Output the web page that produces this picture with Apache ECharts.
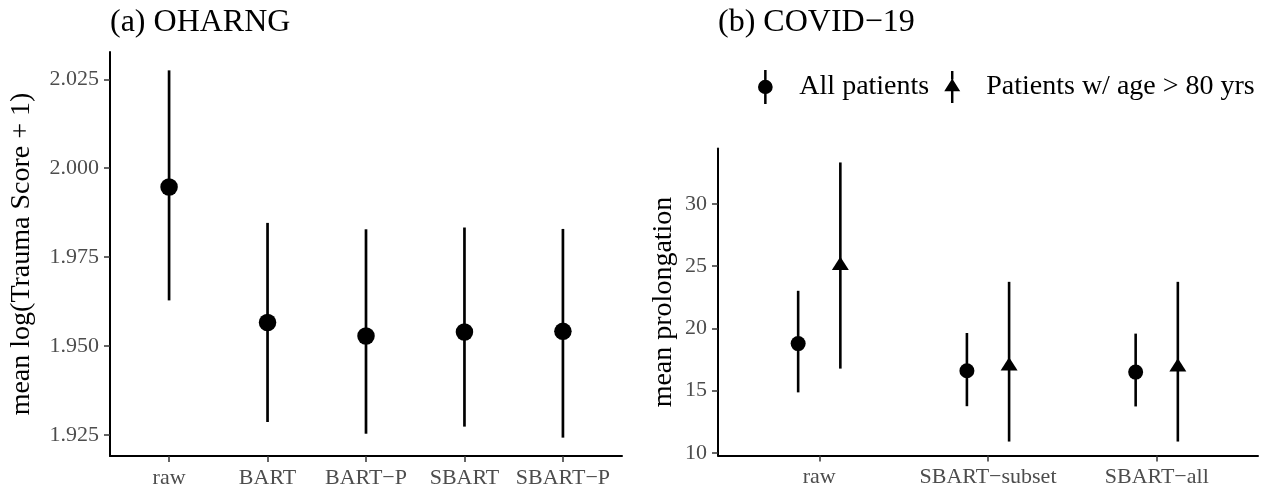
<!DOCTYPE html>
<html><head><meta charset="utf-8">
<script src="https://cdn.jsdelivr.net/npm/echarts@6/dist/echarts.min.js"></script>
<style>html,body{margin:0;padding:0;background:#fff}#c{width:1271px;height:491px}</style>
</head><body><div id="c"></div>
<script>
// ---------- data ----------
const leftCategories = ['raw', 'BART', 'BART−P', 'SBART', 'SBART−P'];
const leftMean  = [1.9947, 1.9566, 1.9528, 1.9539, 1.9541];
const leftLower = [1.9628, 1.9286, 1.9253, 1.9273, 1.9242];
const leftUpper = [2.0275, 1.9846, 1.9828, 1.9833, 1.9829];
const leftTicks = [1.925, 1.950, 1.975, 2.000, 2.025];

const rightCategories = ['raw', 'SBART−subset', 'SBART−all'];
const seriesNames = ['All patients', 'Patients w/ age > 80 yrs'];
const allMean  = [18.78, 16.60, 16.49];
const allLower = [14.86, 13.75, 13.73];
const allUpper = [23.02, 19.63, 19.58];
const oldMean  = [25.04, 16.98, 16.90];
const oldLower = [16.77, 10.91, 10.91];
const oldUpper = [33.33, 23.74, 23.74];
const rightTicks = [10, 15, 20, 25, 30];

const leftTitle = '(a) OHARNG';
const rightTitle = '(b) COVID−19';
const leftYName = 'mean log(Trauma Score + 1)';
const rightYName = 'mean prolongation';

// ---------- helpers ----------
const FONT = 'Liberation Serif';
function expand(lo, hi, mult) { const r = hi - lo; return [lo - mult * r, hi + mult * r]; }
const leftRange = expand(Math.min(...leftLower), Math.max(...leftUpper), 0.05);
const rightRange = expand(Math.min(...allLower, ...oldLower), Math.max(...allUpper, ...oldUpper), 0.05);
const dodge = 0.125;

function catAxis(gridIndex, cats) {
  const idx = cats.map((c, i) => i + 1);
  return {
    type: 'value', gridIndex, min: 0.4, max: cats.length + 0.6,
    axisLine: { show: true, onZero: false, lineStyle: { color: '#000', width: 2 } },
    axisTick: { show: true, customValues: idx, length: 6, lineStyle: { color: '#333', width: 1.5 } },
    axisLabel: { customValues: idx, formatter: v => cats[Math.round(v) - 1], color: '#4d4d4d',
                 fontSize: 22, fontFamily: FONT, margin: 11 },
    splitLine: { show: false }
  };
}
function valAxis(gridIndex, range, ticks, fmt, name, nameGap) {
  return {
    type: 'value', gridIndex, min: range[0], max: range[1],
    name, nameLocation: 'middle', nameGap,
    nameTextStyle: { fontFamily: FONT, fontSize: 28, color: '#000' },
    axisLine: { show: true, onZero: false, lineStyle: { color: '#000', width: 2 } },
    axisTick: { show: true, customValues: ticks, length: 6, lineStyle: { color: '#333', width: 1.5 } },
    axisLabel: { customValues: ticks, formatter: fmt, color: '#4d4d4d', fontSize: 22, fontFamily: FONT, margin: 11 },
    splitLine: { show: false }
  };
}
function errorBars(xi, yi, xs, lo, hi, width) {
  return {
    type: 'custom', xAxisIndex: xi, yAxisIndex: yi, z: 2, silent: true,
    data: xs.map((x, i) => [x, lo[i], hi[i]]),
    encode: { x: 0, y: [1, 2] },
    renderItem: (params, api) => {
      const a = api.coord([api.value(0), api.value(1)]);
      const b = api.coord([api.value(0), api.value(2)]);
      return { type: 'line', shape: { x1: a[0], y1: a[1], x2: b[0], y2: b[1] },
               style: { stroke: '#000', lineWidth: width } };
    }
  };
}

const leftX = leftCategories.map((c, i) => i + 1);
const allX = rightCategories.map((c, i) => i + 1 - dodge);
const oldX = rightCategories.map((c, i) => i + 1 + dodge);

const circleIcon = 'path://M6.9,0 L9.4,0 L9.4,10.5 L6.9,10.5 Z M6.9,23.5 L9.4,23.5 L9.4,34 L6.9,34 Z M0.8,17 A7.35,7.2 0 1,1 15.5,17 A7.35,7.2 0 1,1 0.8,17 Z';
const triIcon = 'path://M7.2,0 L9.8,0 L9.8,9 L7.2,9 Z M7.2,21.4 L9.8,21.4 L9.8,34 L7.2,34 Z M8.5,8.1 L17,21.4 L0,21.4 Z';

const option = {
  animation: false,
  backgroundColor: '#fff',
  title: [
    { text: leftTitle, left: 110, top: 7, padding: 0,
      textStyle: { fontFamily: FONT, fontSize: 32, fontWeight: 'normal', color: '#000', lineHeight: 32 } },
    { text: rightTitle, left: 718, top: 7, padding: 0,
      textStyle: { fontFamily: FONT, fontSize: 32, fontWeight: 'normal', color: '#000', lineHeight: 32 } }
  ],
  legend: {
    left: 758, top: 70, itemGap: 15, itemWidth: 16, itemHeight: 34, padding: 0,
    selectedMode: false,
    textStyle: { fontFamily: FONT, fontSize: 28, color: '#000', padding: [0, 0, 0, 21] },
    data: [
      { name: seriesNames[0], icon: circleIcon, itemStyle: { color: '#000' } },
      { name: seriesNames[1], icon: triIcon, itemStyle: { color: '#000' } }
    ]
  },
  grid: [
    { left: 110, top: 52, width: 512, height: 404, outerBoundsMode: 'none' },
    { left: 718, top: 148.5, width: 540, height: 307, outerBoundsMode: 'none' }
  ],
  xAxis: [catAxis(0, leftCategories), catAxis(1, rightCategories)],
  yAxis: [
    valAxis(0, leftRange, leftTicks, v => v.toFixed(3), leftYName, 74),
    valAxis(1, rightRange, rightTicks, v => String(Math.round(v)), rightYName, 40)
  ],
  series: [
    errorBars(0, 0, leftX, leftLower, leftUpper, 2.7),
    { type: 'scatter', xAxisIndex: 0, yAxisIndex: 0, z: 3, symbol: 'circle', symbolSize: 17.5,
      itemStyle: { color: '#000', opacity: 1 }, data: leftX.map((x, i) => [x, leftMean[i]]) },
    errorBars(1, 1, allX, allLower, allUpper, 2.6),
    errorBars(1, 1, oldX, oldLower, oldUpper, 2.6),
    { name: seriesNames[0], type: 'scatter', xAxisIndex: 1, yAxisIndex: 1, z: 3, symbol: 'circle', symbolSize: 15,
      itemStyle: { color: '#000', opacity: 1 }, data: allX.map((x, i) => [x, allMean[i]]) },
    { name: seriesNames[1], type: 'scatter', xAxisIndex: 1, yAxisIndex: 1, z: 3, symbol: 'triangle',
      symbolSize: [17, 13.3], symbolOffset: [0, -2.2],
      itemStyle: { color: '#000', opacity: 1 }, data: oldX.map((x, i) => [x, oldMean[i]]) }
  ]
};
const chart = echarts.init(document.getElementById('c'), null, { renderer: 'canvas' });
chart.setOption(option);
</script>
</body></html>
